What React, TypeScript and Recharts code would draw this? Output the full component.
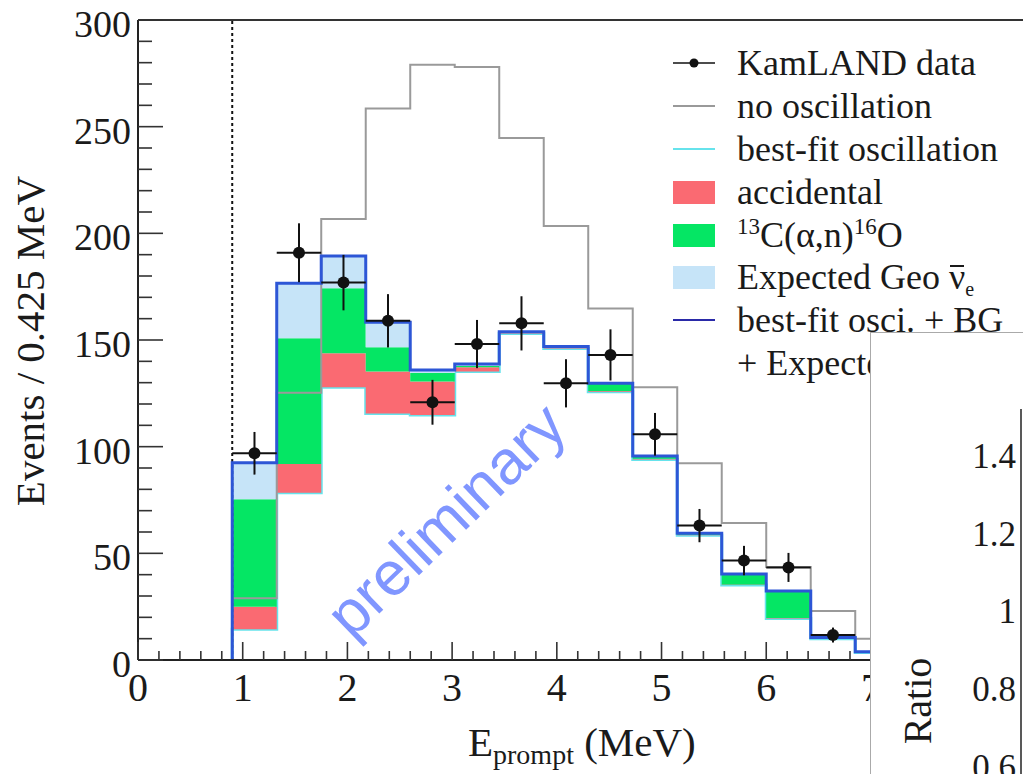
import React from 'react';
import {
  ComposedChart,
  Area,
  Line,
  Scatter,
  ErrorBar,
  XAxis,
  YAxis,
  ReferenceLine,
  Legend,
} from 'recharts';

// ---- Data ----
// Bin edges of the 0.425 MeV prompt-energy bins (MeV)
const binEdges = [0.9, 1.325, 1.75, 2.175, 2.6, 3.025, 3.45, 3.875, 4.3, 4.725, 5.15, 5.575, 6.0, 6.425, 6.85, 7.275];
// Bin centres where the KamLAND data points sit (MeV)
const binCenters = [1.1125, 1.5375, 1.9625, 2.3875, 2.8125, 3.2375, 3.6625, 4.0875, 4.5125, 4.9375, 5.3625, 5.7875, 6.2125, 6.6375];
const binHalfWidth = [0.2125, 0.2125, 0.2125, 0.2125, 0.2125, 0.2125, 0.2125, 0.2125, 0.2125, 0.2125, 0.2125, 0.2125, 0.2125, 0.2125];

// Stacked components (events / bin)
const reactorBestFit = [14.4, 78.4, 127.8, 115.6, 114.8, 135.2, 153.0, 146.0, 125.8, 94.0, 58.5, 35.2, 19.5, 10.0, 3.5];
const accidental = [10.6, 13.5, 16.0, 19.6, 15.7, 2.0, 0.3, 0.3, 0.3, 0.3, 0.2, 0.2, 0.2, 0.1, 0.1];
const carbonAlphaN = [50.3, 58.9, 30.4, 11.4, 4.0, 0.6, 0.3, 0.3, 3.3, 1.0, 0.5, 4.6, 12.3, 0.3, 0.2];
const geoExpected = [17.2, 25.8, 15.2, 11.7, 1.4, 1.0, 0.3, 0.3, 0.3, 0.3, 0.2, 0.3, 0.3, 0.1, 0.1];
const noOscillation = [29, 125.3, 206.7, 258.5, 279, 278, 244.7, 203.4, 164.8, 127.8, 92.2, 64.2, 43.6, 23, 10];

// KamLAND data
const dataEvents = [96.9, 190.9, 176.9, 159, 120.8, 148.1, 157.8, 129.7, 143, 105.8, 63, 46.6, 43.4, 11.7];
const dataErrors = [10, 13.8, 13, 12.5, 10.5, 11.3, 12.7, 11.3, 12, 10, 7.8, 6.9, 6.8, 3.5];

// Axis ticks
const yMajorTicks = [0, 50, 100, 150, 200, 250, 300];
const yAllTicks = Array.from({ length: 31 }, (_, i) => i * 10);
const xMajorTicks = [0, 1, 2, 3, 4, 5, 6, 7, 8];
const xAllTicks = Array.from({ length: 43 }, (_, i) => Math.round(i * 2) / 10);
const ratioTicks = [0.6, 0.8, 1, 1.2, 1.4];
const ratioTickLabels = ['0.6', '0.8', '1', '1.2', '1.4'];

// Legend entries
const legendLabels = [
  'KamLAND data',
  'no oscillation',
  'best-fit oscillation',
  'accidental',
  '13C(α,n)16O',
  'Expected Geo ν̄e',
  'best-fit osci. + BG',
  '+ Expected Geo ν̄e',
];

// ---- Styles ----
const SERIF = '"Liberation Serif", "DejaVu Serif", serif';
const COLORS = {
  red: '#fa6a72',
  green: '#05e664',
  geo: '#c6e4f8',
  cyan: '#66e3ec',
  blue: '#2d56d6',
  grey: '#9a9a9a',
  black: '#111',
  watermark: '#8096ff',
};

// ---- Tables built from the arrays ----
const histTable = (() => {
  const rows: any[] = [
    { x: binEdges[0], reactor: 0, acc: 0, c13: 0, geo: 0, noosc: 0, total: 0 },
  ];
  const n = reactorBestFit.length;
  for (let i = 0; i < n; i++) {
    rows.push({
      x: binEdges[i],
      reactor: reactorBestFit[i],
      acc: accidental[i],
      c13: carbonAlphaN[i],
      geo: geoExpected[i],
      noosc: noOscillation[i],
      total: reactorBestFit[i] + accidental[i] + carbonAlphaN[i] + geoExpected[i],
    });
  }
  const last = rows[rows.length - 1];
  rows.push({ ...last, x: binEdges[n] });
  return rows;
})();

const pointTable = binCenters.map((c, i) => ({
  x: c,
  y: dataEvents[i],
  ex: binHalfWidth[i],
  ey: dataErrors[i],
}));

// ---- Custom ticks (ROOT style: ticks inside the frame) ----
const MainYTick = (props: any) => {
  const { x, y, payload } = props;
  const v = payload.value;
  const major = yMajorTicks.includes(v);
  const ax = x + 7;
  return (
    <g>
      <line x1={ax} x2={ax + (major ? 25 : 14)} y1={y} y2={y} stroke="#333" strokeWidth={1.6} />
      {major && (
        <text x={x} y={y + 17} textAnchor="end" fontFamily={SERIF} fontSize={38} fill="#1a1a1a">
          {v}
        </text>
      )}
    </g>
  );
};

const MainXTick = (props: any) => {
  const { x, y, payload } = props;
  const v = payload.value;
  const major = xMajorTicks.some((m) => Math.abs(m - v) < 1e-6);
  return (
    <g>
      <line x1={x} x2={x} y1={y} y2={y - (major ? 18 : 9)} stroke="#333" strokeWidth={1.6} />
      {major && (
        <text x={x} y={y + 41} textAnchor="middle" fontFamily={SERIF} fontSize={40} fill="#1a1a1a">
          {Math.round(v)}
        </text>
      )}
    </g>
  );
};

const RatioTick = (props: any) => {
  const { x, y, payload } = props;
  const idx = ratioTicks.findIndex((t) => Math.abs(t - payload.value) < 1e-6);
  return (
    <text x={x} y={y + 12} textAnchor="end" fontFamily={SERIF} fontSize={35} fill="#1a1a1a">
      {idx >= 0 ? ratioTickLabels[idx] : payload.value}
    </text>
  );
};

// ---- Legend ----
const LegendMarker = ({ i }: { i: number }) => {
  const w = 42;
  const h = 26;
  const mid = h / 2;
  let content: React.ReactNode = null;
  if (i === 0) {
    content = (
      <>
        <line x1={0} x2={w} y1={mid} y2={mid} stroke={COLORS.black} strokeWidth={1.5} />
        <circle cx={w / 2} cy={mid} r={4.5} fill={COLORS.black} />
      </>
    );
  } else if (i === 1) {
    content = <line x1={0} x2={w} y1={mid} y2={mid} stroke="#777" strokeWidth={1.5} />;
  } else if (i === 2) {
    content = <line x1={0} x2={w} y1={mid} y2={mid} stroke={COLORS.cyan} strokeWidth={2} />;
  } else if (i === 3) {
    content = <rect x={0} y={2} width={w} height={23} fill={COLORS.red} />;
  } else if (i === 4) {
    content = <rect x={0} y={2} width={w} height={23} fill={COLORS.green} />;
  } else if (i === 5) {
    content = <rect x={0} y={2} width={w} height={23} fill={COLORS.geo} />;
  } else if (i === 6) {
    content = <line x1={0} x2={w} y1={mid} y2={mid} stroke="#2a2aa8" strokeWidth={2} />;
  }
  return (
    <svg width={w} height={h} style={{ display: 'block', flex: '0 0 auto' }}>
      {content}
    </svg>
  );
};

const LegendText = ({ i }: { i: number }) => {
  const label = legendLabels[i];
  if (i === 4) {
    return (
      <span>
        <span style={{ fontSize: 23, position: 'relative', top: -13 }}>13</span>C(α,n)
        <span style={{ fontSize: 23, position: 'relative', top: -13 }}>16</span>O
      </span>
    );
  }
  if (i === 5 || i === 7) {
    const prefix = i === 5 ? 'Expected Geo ' : '+ Expected Geo ';
    return (
      <span>
        {prefix}
        <span style={{ position: 'relative', display: 'inline-block' }}>
          ν
          <span
            style={{
              position: 'absolute',
              left: 1,
              right: 1,
              top: 9,
              height: 2,
              background: '#1a1a1a',
            }}
          />
        </span>
        <span style={{ fontSize: 20, position: 'relative', top: 7 }}>e</span>
      </span>
    );
  }
  return <span>{label}</span>;
};

const renderLegend = () => (
  <div style={{ fontFamily: SERIF, fontSize: 36, color: '#1a1a1a' }}>
    {legendLabels.map((_, i) => (
      <div
        key={i}
        style={{ display: 'flex', alignItems: 'center', height: 42.8, whiteSpace: 'nowrap' }}
      >
        <div style={{ width: 64, flex: '0 0 64px' }}>{i < 7 ? <LegendMarker i={i} /> : null}</div>
        <LegendText i={i} />
      </div>
    ))}
  </div>
);

// ---- Axis titles ----
const YTitle = () => (
  <text
    x={44}
    y={341}
    transform="rotate(-90 44 341)"
    textAnchor="middle"
    fontFamily={SERIF}
    fontSize={41}
    fill="#1a1a1a"
  >
    Events / 0.425 MeV
  </text>
);

const XTitle = () => (
  <text x={468} y={756} fontFamily={SERIF} fontSize={41} fill="#1a1a1a">
    <tspan>E</tspan>
    <tspan fontSize={28} dy={8}>prompt</tspan>
    <tspan dy={-8}> (MeV)</tspan>
  </text>
);

const RatioTitle = () => (
  <text
    x={60}
    y={368}
    transform="rotate(-90 60 368)"
    textAnchor="middle"
    fontFamily={SERIF}
    fontSize={40}
    fill="#1a1a1a"
  >
    Ratio
  </text>
);

export default function App() {
  return (
    <div
      style={{
        position: 'absolute',
        left: 0,
        top: 0,
        width: 1023,
        height: 774,
        overflow: 'hidden',
        background: '#fff',
      }}
    >
      <ComposedChart
        width={1040}
        height={774}
        data={histTable}
        margin={{ top: 20, right: 12, left: 0, bottom: 0 }}
      >
        <XAxis
          dataKey="x"
          type="number"
          domain={[0, 8.5]}
          ticks={xAllTicks}
          interval={0}
          tickSize={0}
          tickMargin={0}
          tick={<MainXTick />}
          height={114}
          axisLine={{ stroke: '#222', strokeWidth: 2 }}
          allowDataOverflow
          label={{ content: () => <XTitle /> }}
        />
        <YAxis
          type="number"
          domain={[0, 300]}
          ticks={yAllTicks}
          interval={0}
          tickSize={0}
          tickMargin={7}
          tick={<MainYTick />}
          width={138}
          axisLine={{ stroke: '#222', strokeWidth: 2 }}
          allowDataOverflow
          label={{ content: () => <YTitle /> }}
        />
        <ReferenceLine y={300} stroke="#333" strokeWidth={2} />
        <ReferenceLine x={0.9} stroke="#111" strokeWidth={2} strokeDasharray="3 3" />

        <Area
          dataKey="reactor"
          stackId="bg"
          type="stepAfter"
          fill="none"
          stroke={COLORS.cyan}
          strokeWidth={3}
          isAnimationActive={false}
          dot={false}
          activeDot={false}
        />
        <Area
          dataKey="acc"
          stackId="bg"
          type="stepAfter"
          fill={COLORS.red}
          fillOpacity={1}
          stroke="none"
          isAnimationActive={false}
          dot={false}
          activeDot={false}
        />
        <Area
          dataKey="c13"
          stackId="bg"
          type="stepAfter"
          fill={COLORS.green}
          fillOpacity={1}
          stroke="none"
          isAnimationActive={false}
          dot={false}
          activeDot={false}
        />
        <Area
          dataKey="geo"
          stackId="bg"
          type="stepAfter"
          fill={COLORS.geo}
          fillOpacity={1}
          stroke="none"
          isAnimationActive={false}
          dot={false}
          activeDot={false}
        />
        <Line
          dataKey="noosc"
          type="stepAfter"
          stroke={COLORS.grey}
          strokeWidth={2}
          dot={false}
          activeDot={false}
          isAnimationActive={false}
        />
        <Line
          dataKey="total"
          type="stepAfter"
          stroke={COLORS.blue}
          strokeWidth={3}
          dot={false}
          activeDot={false}
          isAnimationActive={false}
        />
        <Scatter
          data={pointTable}
          dataKey="y"
          fill={COLORS.black}
          isAnimationActive={false}
          shape={(p: any) => <circle cx={p.cx} cy={p.cy} r={6} fill={COLORS.black} />}
        >
          <ErrorBar dataKey="ey" direction="y" width={0} stroke={COLORS.black} strokeWidth={2} />
          <ErrorBar dataKey="ex" direction="x" width={0} stroke={COLORS.black} strokeWidth={2} />
        </Scatter>
        <Legend
          layout="vertical"
          align="center"
          verticalAlign="middle"
          content={renderLegend}
          wrapperStyle={{ position: 'absolute', left: 673, top: 42, width: 360 }}
        />
      </ComposedChart>

      <div
        style={{
          position: 'absolute',
          left: 446,
          top: 520,
          transform: 'translate(-50%, -50%) rotate(-44deg)',
          fontFamily: '"Liberation Sans", Arial, sans-serif',
          fontSize: 62,
          lineHeight: 1,
          color: COLORS.watermark,
          whiteSpace: 'nowrap',
        }}
      >
        preliminary
      </div>

      <div
        style={{
          position: 'absolute',
          left: 870,
          top: 332,
          width: 220,
          height: 520,
          background: '#fff',
          borderLeft: '1.5px solid #aaa',
          borderTop: '1.5px solid #aaa',
        }}
      >
        <ComposedChart width={200} height={520} data={[]} margin={{ top: 76, right: 0, left: 0, bottom: 8 }}>
          <XAxis type="number" dataKey="x" domain={[0, 1]} hide />
          <YAxis
            type="number"
            domain={[0.4, 1.52]}
            ticks={ratioTicks}
            interval={0}
            tickSize={0}
            tickMargin={5}
            tick={<RatioTick />}
            width={150}
            axisLine={{ stroke: '#222', strokeWidth: 1.5 }}
            allowDataOverflow
            label={{ content: () => <RatioTitle /> }}
          />
        </ComposedChart>
      </div>
    </div>
  );
}
